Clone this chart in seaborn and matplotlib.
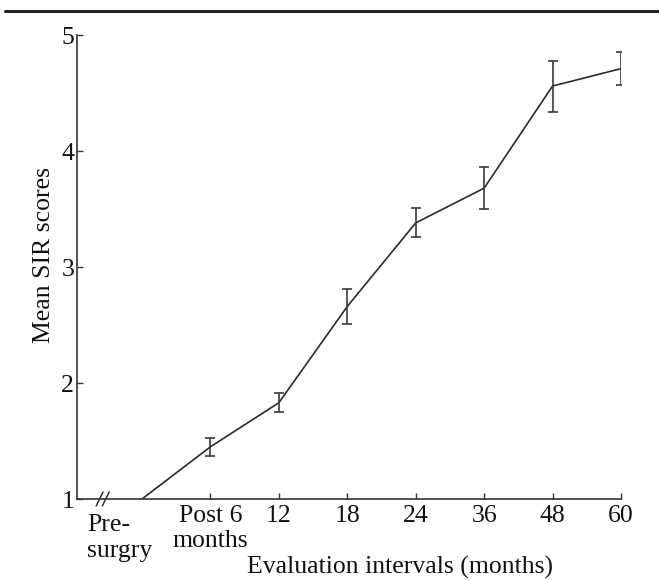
import matplotlib
matplotlib.use("Agg")
import matplotlib.pyplot as plt
import seaborn as sns
import numpy as np
import pandas as pd
from matplotlib.lines import Line2D

categories = ["Pre-\nsurgry", "Post 6\nmonths", "12", "18", "24", "36", "48", "60"]
mean_scores = [1.00, 1.45, 1.83, 2.66, 3.38, 3.68, 4.56, 4.71]
score_err = [0.00, 0.08, 0.08, 0.15, 0.125, 0.18, 0.22, 0.14]
y_ticks = [1, 2, 3, 4, 5]

sns.set_theme(style="white")
plt.rcParams['font.family'] = ['Liberation Serif', 'DejaVu Serif']

FS = 18.5
fig = plt.figure(figsize=(6.59, 5.81), dpi=100)
ax = fig.add_axes([77/659, 82/581, 544/659, 464/581])

pos = np.arange(len(categories))
df = pd.DataFrame({"pos": pos, "score": mean_scores, "err": score_err})
line_col = "#2b2b2b"
sns.lineplot(data=df, x="pos", y="score", ax=ax, color=line_col, linewidth=1.2)
ax.errorbar(df["pos"][1:], df["score"][1:], yerr=df["err"][1:], fmt="none",
            ecolor="#3a3a3a", elinewidth=1.2, capsize=3.8, capthick=1.2)

ax.set_xlim(-0.95, 7)
ax.set_ylim(1, 5)
ax.set_yticks(y_ticks)
ax.set_yticklabels([str(t) for t in y_ticks], fontsize=FS)
ax.set_xticks(pos[1:])
ax.set_xticklabels(categories[1:], fontsize=FS, linespacing=1.2)
ax.tick_params(axis="both", direction="in", length=4, width=1, color="#333333",
               pad=4, bottom=True, left=True, labelcolor="#111111")
ax.tick_params(axis="y", pad=2)
for s in ["top", "right"]:
    ax.spines[s].set_visible(False)
for s in ["left", "bottom"]:
    ax.spines[s].set_color("#333333")
    ax.spines[s].set_linewidth(1.2)
ax.set_xlabel("")
ax.set_ylabel("")

# Pre-surgery label (no tick mark)
ax.text(-0.80, -0.033, categories[0], transform=ax.get_xaxis_transform(),
        ha="left", va="top", fontsize=FS, linespacing=1.2, color="#111111")

# axis break marks
for dx in (-0.62, -0.53):
    ax.plot([dx - 0.05, dx + 0.05], [-0.015, 0.015], color="#333333", lw=1.1,
            transform=ax.get_xaxis_transform(), clip_on=False)

fig.text(400/659, 1 - 567/581, "Evaluation intervals (months)", ha="center", va="center",
         fontsize=FS, color="#111111")
fig.text(44/659, 1 - 255/581, "Mean SIR scores", ha="center", va="center",
         rotation=90, fontsize=FS, color="#111111")

fig.add_artist(Line2D([5/659, 1.0], [1 - 11/581, 1 - 11/581], color="#222222", lw=2.2))

fig.savefig("out.png", dpi=100)
